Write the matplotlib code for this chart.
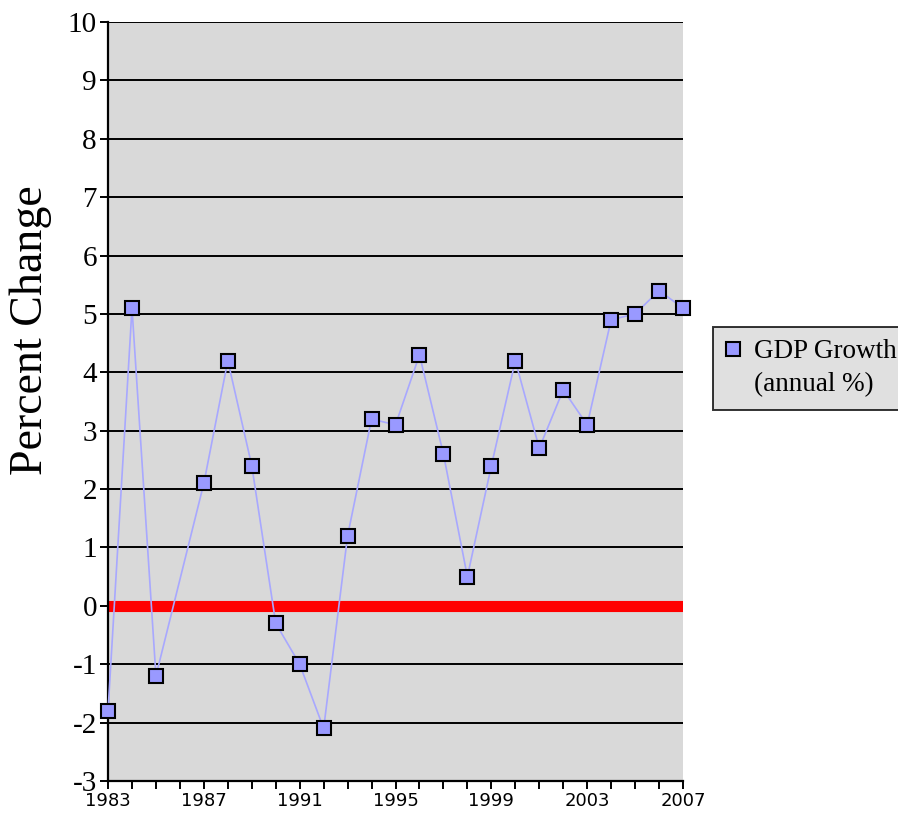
import matplotlib.pyplot as plt
from matplotlib.lines import Line2D
from matplotlib.ticker import MultipleLocator

# annual GDP growth, 1986 has no observation
years = [1983, 1984, 1985, 1987, 1988, 1989, 1990, 1991, 1992, 1993, 1994, 1995,
         1996, 1997, 1998, 1999, 2000, 2001, 2002, 2003, 2004, 2005, 2006, 2007]
gdp_growth = [-1.8, 5.1, -1.2, 2.1, 4.2, 2.4, -0.3, -1.0, -2.1, 1.2, 3.2, 3.1,
              4.3, 2.6, 0.5, 2.4, 4.2, 2.7, 3.7, 3.1, 4.9, 5.0, 5.4, 5.1]
year_ticks = [1983, 1987, 1991, 1995, 1999, 2003, 2007]
pct_ticks = list(range(-3, 11))

SERIF = ["Liberation Serif", "DejaVu Serif"]
SANS = ["DejaVu Sans"]
PANEL = "#d9d9d9"

plt.rcParams["axes.unicode_minus"] = False

fig = plt.figure(figsize=(8.98, 8.19), dpi=100)
ax = fig.add_axes([0.1203, 0.0464, 0.6403, 0.9267])
ax.set_facecolor(PANEL)

for v in pct_ticks[1:]:
    if v != 0:
        ax.axhline(v, color="black", linewidth=1.4, zorder=1)
ax.axhline(0, color="#ff0000", linewidth=8, zorder=2)

ax.plot(years, gdp_growth, color="#a8a8ff", linewidth=1.2, zorder=3, clip_on=False)
ax.plot(years, gdp_growth, linestyle="none", marker="s", markersize=9.5,
        markerfacecolor="#9999ff", markeredgecolor="black", markeredgewidth=1.5,
        zorder=4, clip_on=False)

ax.set_xlim(1983, 2007)
ax.set_ylim(-3, 10)
ax.set_xticks(year_ticks)
ax.xaxis.set_minor_locator(MultipleLocator(1))
ax.set_yticks(pct_ticks)

for side in ("top", "right"):
    ax.spines[side].set_visible(False)
ax.spines["left"].set_linewidth(1.6)
ax.spines["bottom"].set_linewidth(1.6)

ax.tick_params(axis="y", direction="out", length=6, width=1.4, pad=2, labelsize=21)
ax.tick_params(axis="x", which="both", direction="out", length=6, width=1.4, pad=2, labelsize=13)
for lab in ax.get_yticklabels():
    lab.set_family(SERIF)
for lab in ax.get_xticklabels():
    lab.set_family(SANS)

ax.set_ylabel("Percent Change", fontsize=33, family=SERIF)
ax.yaxis.set_label_coords(-0.097, 0.594)

handles = [
    Line2D([], [], linestyle="none", marker="s", markersize=9.5,
           markerfacecolor="#9999ff", markeredgecolor="black", markeredgewidth=1.5),
    Line2D([], [], linestyle="none"),
]
leg = fig.legend(handles, ["GDP Growth", "(annual %)"], loc="upper left",
                 bbox_to_anchor=(713 / 898, 1 - 327 / 819), frameon=True,
                 prop={"family": SERIF, "size": 19.5}, handlelength=0.6,
                 handletextpad=0.45, borderpad=0.45, labelspacing=0.3,
                 borderaxespad=0, fancybox=False)
leg.get_frame().set_facecolor(PANEL)
leg.get_frame().set_edgecolor("black")
leg.get_frame().set_linewidth(1.4)

fig.savefig("out.png", dpi=100, facecolor="white")
